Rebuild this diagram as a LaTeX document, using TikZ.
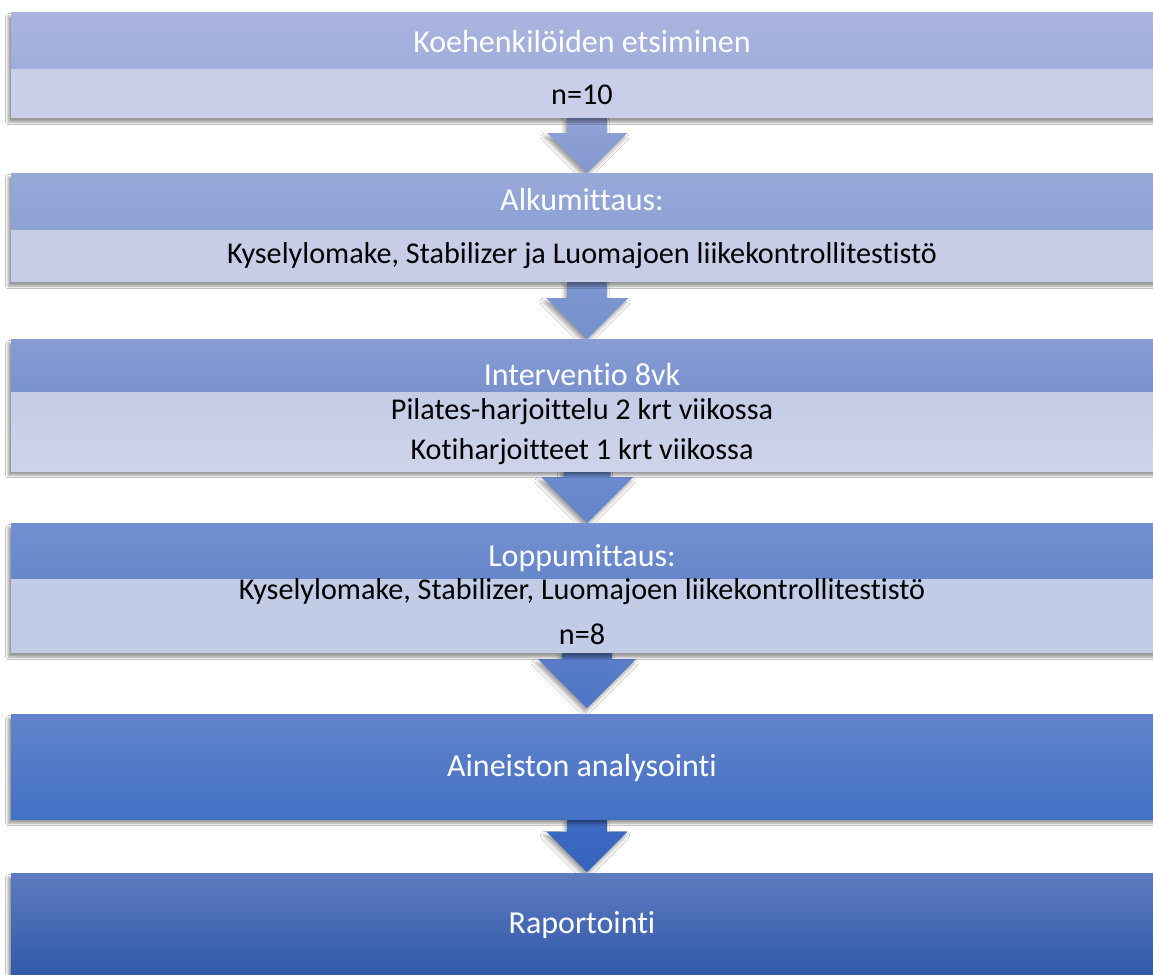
\documentclass[tikz,border=0pt]{standalone}
\usepackage{fontspec}
\setmainfont{Carlito}[Ligatures={NoCommon}]
\usetikzlibrary{shadows.blur,calc}
\definecolor{hOneT}{HTML}{A9B5DE}\definecolor{hOneB}{HTML}{A0AEDB}\definecolor{dOne}{HTML}{C9CFE9}
\definecolor{hTwoT}{HTML}{98A9D9}\definecolor{hTwoB}{HTML}{8DA1D5}\definecolor{dTwo}{HTML}{C7CDE7}
\definecolor{hThrT}{HTML}{879CD4}\definecolor{hThrB}{HTML}{7892CE}\definecolor{dThr}{HTML}{C4CCE6}
\definecolor{hFouT}{HTML}{7390D0}\definecolor{hFouB}{HTML}{6586CA}\definecolor{dFou}{HTML}{C3CCE6}
\definecolor{hFivT}{HTML}{6383CA}\definecolor{hFivB}{HTML}{4271C6}
\definecolor{hSixT}{HTML}{5E7AC0}\definecolor{hSixB}{HTML}{2D57A7}
\definecolor{aOneT}{HTML}{91A3D7}\definecolor{aOneB}{HTML}{8397CF}
\definecolor{aTwoT}{HTML}{7F97D1}\definecolor{aTwoB}{HTML}{7390CC}
\definecolor{aThrT}{HTML}{6E8BCF}\definecolor{aThrB}{HTML}{6284CA}
\definecolor{aFouT}{HTML}{5B7EC9}\definecolor{aFouB}{HTML}{4C74C4}
\definecolor{aFivT}{HTML}{3D6BC2}\definecolor{aFivB}{HTML}{3663BC}
\newcommand\fs{\fontsize{30.2}{36}\selectfont}
\newcommand\fh{\fontsize{32}{38}\selectfont}
% #1 from node, #2 to node, #3 shaft half width, #4 head half width/length, #5 top colour, #6 bottom colour, #7 apex overshoot
\newcommand\blkarrow[7]{%
  \path[arrowsty, top color=#5, bottom color=#6]
    let \p1=(#1.south), \p2=(#2.north) in
    (587pt-#3pt,\y1+2pt) -- (587pt+#3pt,\y1+2pt) -- (587pt+#3pt,\y2-#7pt+#4pt)
    -- (587pt+#4pt,\y2-#7pt+#4pt) -- (587pt,\y2-#7pt) -- (587pt-#4pt,\y2-#7pt+#4pt)
    -- (587pt-#3pt,\y2-#7pt+#4pt) -- cycle;}
\begin{document}
\begin{tikzpicture}[x=1pt,y=-1pt,
  frame/.style={draw=none, fill=white, inner sep=0pt, anchor=north west, minimum width=1160pt,
    blur shadow={shadow xshift=-3pt, shadow yshift=-4pt, shadow blur radius=2.5pt, shadow opacity=40}},
  band/.style={draw=none, inner sep=0pt, anchor=north west, minimum width=1160pt},
  arrowsty/.style={draw=none,
    blur shadow={shadow xshift=-2pt, shadow yshift=-4pt, shadow blur radius=4pt, shadow opacity=40}},
  wtext/.style={text=white, font=\fh, inner sep=0pt},
  btext/.style={text=black, font=\fs, inner sep=0pt}]
\useasboundingbox (0,0) rectangle (1153,974);
\clip (0,0) rectangle (1153,974);
\fill[white] (0,0) rectangle (1153,974);

% box outlines (for names)
\path (11,12) node[band, minimum height=106pt] (b1) {};
\path (11,173) node[band, minimum height=109pt] (b2) {};
\path (11,339) node[band, minimum height=132pt] (b3) {};
\path (11,523) node[band, minimum height=130pt] (b4) {};
\path (11,714) node[band, minimum height=105pt] (b5) {};
\path (11,873) node[band, minimum height=110pt] (b6) {};

% arrows
\blkarrow{b1}{b2}{20}{40}{aOneT}{aOneB}{0}
\blkarrow{b2}{b3}{20}{41}{aTwoT}{aTwoB}{0}
\blkarrow{b3}{b4}{23.5}{46}{aThrT}{aThrB}{0}
\blkarrow{b4}{b5}{25}{49}{aFouT}{aFouB}{-6}
\blkarrow{b5}{b6}{20}{40.5}{aFivT}{aFivB}{-1}

% box 1
\path (11,12) node[frame, minimum height=106pt] (f1) {};
\path (11,12) node[band, minimum height=57pt, top color=hOneT, bottom color=hOneB] (h1) {};
\path (11,69) node[band, minimum height=49pt, fill=dOne] (d1) {};
\node[wtext] (t1) at (582,42) {Koehenkilöiden etsiminen};
\node[btext] (s1) at (582,95) {n=10};

% box 2
\path (11,173) node[frame, minimum height=109pt] (f2) {};
\path (11,173) node[band, minimum height=57pt, top color=hTwoT, bottom color=hTwoB] (h2) {};
\path (11,230) node[band, minimum height=52pt, fill=dTwo] (d2) {};
\node[wtext] (t2) at (582,200) {Alkumittaus:};
\node[btext] (s2) at (582,256) {Kyselylomake, Stabilizer ja Luomajoen liikekontrollitestistö};

% box 3
\path (11,339) node[frame, minimum height=132pt] (f3) {};
\path (11,339) node[band, minimum height=53pt, top color=hThrT, bottom color=hThrB] (h3) {};
\path (11,392) node[band, minimum height=79pt, top color=dThr, bottom color=dThr!85!white] (d3) {};
\node[wtext] (t3) at (582,375) {Interventio 8vk};
\node[btext] (s3) at (582,412) {Pilates-harjoittelu 2 krt viikossa};
\node[btext] (r3) at (582,452) {Kotiharjoitteet 1 krt viikossa};

% box 4
\path (11,523) node[frame, minimum height=130pt] (f4) {};
\path (11,523) node[band, minimum height=56pt, top color=hFouT, bottom color=hFouB] (h4) {};
\path (11,579) node[band, minimum height=74pt, fill=dFou] (d4) {};
\node[wtext] (t4) at (582,558) {Loppumittaus:};
\node[btext] (s4) at (582,592) {Kyselylomake, Stabilizer, Luomajoen liikekontrollitestistö};
\node[btext] (r4) at (582,634) {n=8};

% box 5
\path (11,714) node[frame, minimum height=105pt, top color=hFivT, bottom color=hFivB] (h5) {};
\node[wtext] (t5) at (582,768) {Aineiston analysointi};

% box 6
\path (11,873) node[frame, minimum height=110pt, top color=hSixT, bottom color=hSixB] (h6) {};
\node[wtext] (t6) at (582,925) {Raportointi};
\end{tikzpicture}
\end{document}
